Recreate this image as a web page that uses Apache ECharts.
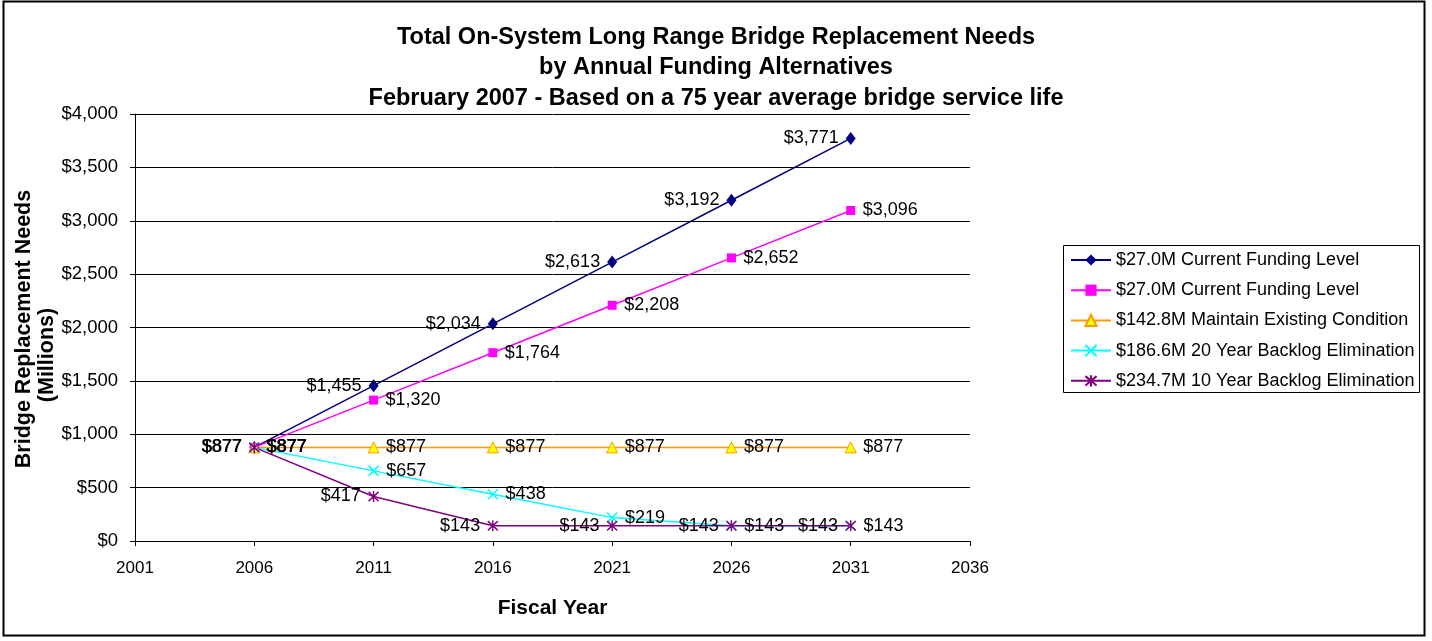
<!DOCTYPE html>
<html>
<head>
<meta charset="utf-8">
<script src="https://cdn.jsdelivr.net/npm/echarts@6/dist/echarts.min.js"></script>
<style>
  html, body { margin: 0; padding: 0; background: #fff; }
  #chart { width: 1432px; height: 641px; }
</style>
</head>
<body>
<div id="chart"></div>
<script>
// Fiscal years on the horizontal axis (tick labels) and years with data
const xTickYears = [2001, 2006, 2011, 2016, 2021, 2026, 2031, 2036];
const dataYears = [2006, 2011, 2016, 2021, 2026, 2031];

// Bridge replacement needs, millions of dollars
const currentFundingA = [877, 1455, 2034, 2613, 3192, 3771];
const currentFundingB = [877, 1320, 1764, 2208, 2652, 3096];
const maintainExisting = [877, 877, 877, 877, 877, 877];
const backlog20Year = [877, 657, 438, 219, 143, 143];
const backlog10Year = [877, 417, 143, 143, 143, 143];

// The two current-funding series share a caption; a zero-width space keeps
// their legend entries separate.
const seriesNames = [
  '$27.0M Current Funding Level',
  '$27.0M Current Funding Level\u200B',
  '$142.8M Maintain Existing Condition',
  '$186.6M 20 Year Backlog Elimination',
  '$234.7M 10 Year Backlog Elimination'
];

const FONT = '"Liberation Sans", Arial, Helvetica, sans-serif';
const money = v => '$' + Number(v).toLocaleString('en-US');
const pairs = vals => dataYears.map((y, i) => [String(y), vals[i]]);

const CROSS = 'path://M0,0L10,10M0,10L10,0';
const ASTERISK = 'path://M0,0L10,10M0,10L10,0M5,-1L5,11';

// labelGap: distance from the symbol edge, chosen so every label sits
// about 12px from the point centre whatever the symbol width
function lineSeries(name, vals, color, symbol, size, labelPos, labelGap, extraItem) {
  return {
    name: name,
    type: 'line',
    data: pairs(vals),
    symbol: symbol,
    symbolSize: size,
    showAllSymbol: true,
    lineStyle: { color: color, width: 1.5 },
    itemStyle: Object.assign({ color: color }, extraItem || {}),
    label: {
      show: true,
      position: labelPos,
      distance: labelGap,
      formatter: p => money(p.value[1]),
      color: '#000',
      fontFamily: FONT,
      fontSize: 18
    },
    emphasis: { disabled: true },
    animation: false
  };
}

const chart = echarts.init(document.getElementById('chart'), null, { renderer: 'canvas' });

chart.setOption({
  backgroundColor: '#fff',
  animation: false,
  title: {
    text: 'Total On-System Long Range Bridge Replacement Needs\nby Annual Funding Alternatives\nFebruary 2007 - Based on a 75 year average bridge service life',
    left: 'center',
    top: 17,
    textStyle: {
      fontFamily: FONT,
      fontSize: 23.5,
      fontWeight: 'bold',
      lineHeight: 30.5,
      color: '#000'
    }
  },
  legend: {
    orient: 'vertical',
    left: 1063,
    top: 246,
    padding: [5, 4, 5, 7],
    itemWidth: 40,
    itemHeight: 14,
    itemGap: 12.2,
    textStyle: { fontFamily: FONT, fontSize: 18, color: '#000', lineHeight: 17 },
    data: seriesNames.map(n => ({ name: n })),
    selectedMode: false
  },
  grid: { left: 135, right: 462, top: 114, bottom: 100, containLabel: false },
  xAxis: {
    type: 'category',
    boundaryGap: false,
    data: xTickYears.map(String),
    name: 'Fiscal Year',
    nameLocation: 'middle',
    nameGap: 57,
    nameTextStyle: { fontFamily: FONT, fontSize: 21, fontWeight: 'bold', color: '#000' },
    axisLine: { show: true, lineStyle: { color: '#000', width: 1 } },
    axisTick: { show: true, alignWithLabel: true, length: 5, lineStyle: { color: '#000' } },
    axisLabel: { fontFamily: FONT, fontSize: 17, color: '#000', margin: 19 },
    splitLine: { show: false }
  },
  yAxis: {
    type: 'value',
    min: 0,
    max: 4000,
    interval: 500,
    axisLine: { show: true, lineStyle: { color: '#000', width: 1 } },
    axisTick: { show: true, length: 5, lineStyle: { color: '#000' } },
    axisLabel: { fontFamily: FONT, fontSize: 18.5, color: '#000', margin: 17, formatter: money },
    splitLine: { show: true, lineStyle: { color: '#000', width: 1 } }
  },
  graphic: [
    {
      type: 'rect',
      shape: { x: 3.5, y: 1.5, width: 1421, height: 634 },
      style: { fill: 'none', stroke: '#000', lineWidth: 2 },
      silent: true,
      z: 100
    },
    {
      type: 'rect',
      shape: { x: 1063.5, y: 245.5, width: 356, height: 147 },
      style: { fill: 'none', stroke: '#000', lineWidth: 1 },
      silent: true
    },
    {
      type: 'text',
      x: 24, y: 329,
      rotation: Math.PI / 2,
      style: {
        text: 'Bridge Replacement Needs',
        fontFamily: FONT, fontSize: 21.5, fontWeight: 'bold', fill: '#000',
        textAlign: 'center', textVerticalAlign: 'middle'
      },
      silent: true
    },
    {
      type: 'text',
      x: 47, y: 355,
      rotation: Math.PI / 2,
      style: {
        text: '(Millions)',
        fontFamily: FONT, fontSize: 21.5, fontWeight: 'bold', fill: '#000',
        textAlign: 'center', textVerticalAlign: 'middle'
      },
      silent: true
    }
  ],
  series: [
    lineSeries(seriesNames[0], currentFundingA, '#000080', 'diamond', [10, 13], 'left', 7),
    lineSeries(seriesNames[1], currentFundingB, '#FF00FF', 'rect', 9, 'right', 7.5),
    lineSeries(seriesNames[2], maintainExisting, '#FF9900', 'triangle', 11, 'right', 6.5,
      { color: '#FFFF00', borderColor: '#FF9900', borderWidth: 1 }),
    lineSeries(seriesNames[3], backlog20Year, '#00FFFF', CROSS, 10, 'right', 7,
      { color: '#00FFFF', borderColor: '#00FFFF', borderWidth: 1.5 }),
    lineSeries(seriesNames[4], backlog10Year, '#800080', ASTERISK, [10, 11], 'left', 7,
      { color: '#800080', borderColor: '#800080', borderWidth: 1.5 })
  ]
});
</script>
</body>
</html>
